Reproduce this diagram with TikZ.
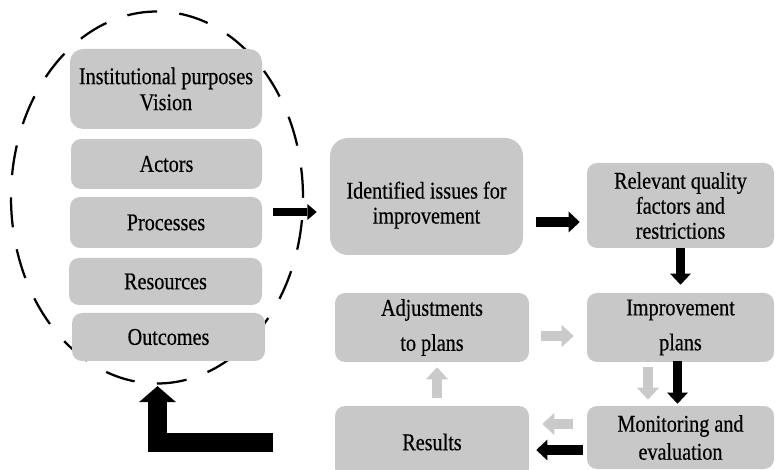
\documentclass[tikz,border=0pt]{standalone}
\usepackage{fontspec}
\setmainfont{Liberation Serif}[FakeStretch=0.84,FakeBold=0.4]
\usetikzlibrary{arrows.meta,calc,shapes.geometric}
\definecolor{boxgray}{RGB}{200,200,200}
\definecolor{arrgray}{RGB}{202,202,202}
\newcommand{\boxfont}{\fontsize{18}{18.75}\selectfont}
\tikzset{
  sz/.style 2 args={minimum width=#1*0.75pt, minimum height=#2*0.75pt},
  box/.style={fill=boxgray, draw=none, rounded corners=7.5pt, inner sep=0pt,
              align=center, font=\boxfont, text=black},
  cycle/.style={ellipse, draw=black, line width=1.7pt, fill=none,
                dash pattern=on 22.5pt off 16.75pt, inner sep=0pt},
  blkA/.style={line width=6pt, draw=black,
               -{Triangle[length=7pt,width=12pt,line width=0pt]}},
  blkB/.style={line width=7pt, draw=black,
               -{Triangle[length=8.25pt,width=15.5pt,line width=0pt]}},
  gry/.style={line width=7pt, draw=arrgray,
              -{Triangle[length=9pt,width=16.5pt,line width=0pt]}},
  bigarr/.style={line width=14.25pt, draw=black, line join=miter,
                 -{Triangle[length=12pt,width=27.75pt,line width=0pt]}}
}
\begin{document}
\begin{tikzpicture}[x=0.75pt,y=-0.75pt]
\useasboundingbox (0,0) rectangle (775,470);
\clip (0,0) rectangle (775,470);

% dashed ellipse
\node[cycle, minimum width=219pt, minimum height=279pt] (cyc) at (157,197.5) {};

% left stack
\node[box, sz={192}{80}, rounded corners=9.75pt] (inst) at (166,89)
  {Institutional purposes\\[0.75pt]Vision};
\node[box, sz={191}{50}] (act) at (166.5,164) {Actors};
\node[box, sz={192}{51}] (proc) at (166,222.5) {Processes};
\node[box, sz={193}{47}] (res) at (165.5,281.5) {Resources};
\node[box, sz={193}{48}] (outc) at (168.5,337) {Outcomes};

% right part
\node[box, sz={193}{117}, rounded corners=13.5pt,
      label={[font=\boxfont, align=center, yshift=-6.5pt]center:{Identified issues for\\improvement}}]
  (iss) at (426.5,196.5) {};
\node[box, sz={187}{85}] (rel) at (680.5,205.5)
  {Relevant quality\\factors and\\restrictions};
\node[box, sz={194}{69}] (adj) at (432,327.5)
  {Adjustments\\[7.5pt]to plans};
\node[box, sz={187}{69}] (imp) at (680.5,327.5)
  {Improvement\\[7.5pt]plans};
\node[box, sz={194}{72}] (resu) at (432,442) {Results};
\node[box, sz={187}{63}] (mon) at (680.5,437.5)
  {Monitoring and\\[2.25pt]evaluation};

% black arrows
\draw[blkA] ($(proc.east)+(11,-10.5)$) -- ($(iss.west)+(-13,15.5)$);
\draw[blkB] ($(iss.east)+(13,25.5)$) -- ($(rel.west)+(-7,16.5)$);
\draw[blkB] (rel.south) -- ($(imp.north)+(0,-8)$);
\draw[blkB] ($(imp.south)+(-3,-1)$) -- ($(mon.north)+(-3,-2)$);
\draw[blkB] ($(mon.west)+(-4,12.5)$) -- ($(resu.east)+(7,8)$);

% gray arrows
\draw[gry] ($(adj.east)+(12,8.5)$) -- ($(imp.west)+(-13,8.5)$);
\draw[gry] ($(imp.south)+(-32.5,5)$) -- ($(mon.north)+(-32.5,-6)$);
\draw[gry] ($(mon.west)+(-14,-13.5)$) -- ($(resu.east)+(13,-18)$);
\draw[gry] ($(resu.north)+(5,-8)$) -- ($(adj.south)+(5,5)$);

% big return arrow
\coordinate (lstart) at (273,442);
\draw[bigarr] (lstart) -| ($(cyc.south)+(0.5,1.5)$);
\end{tikzpicture}
\end{document}
